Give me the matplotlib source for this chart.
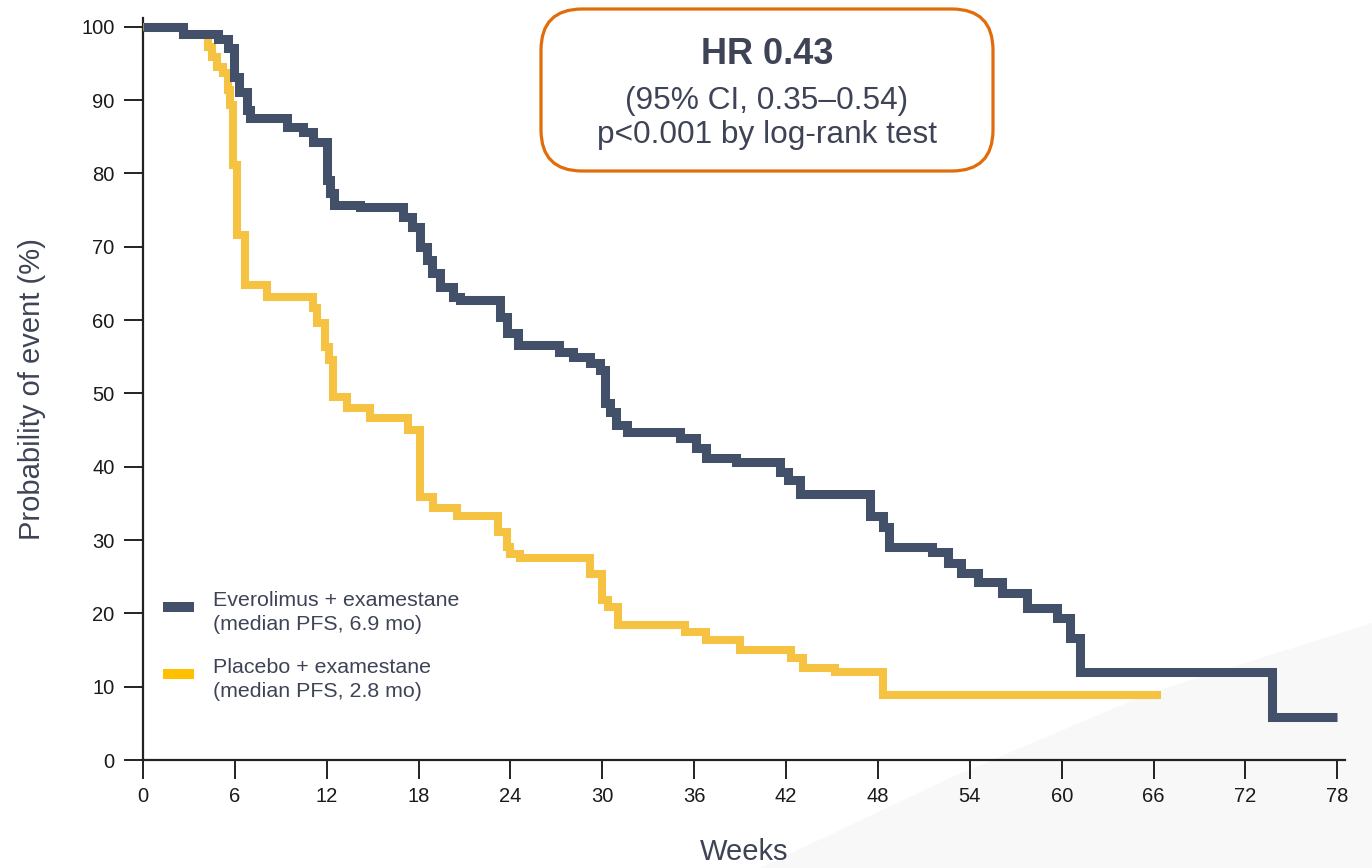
import matplotlib
matplotlib.use("Agg")
from matplotlib import pyplot as plt
from matplotlib.patches import FancyBboxPatch, Rectangle, Polygon
import numpy as np

plt.rcParams['font.family'] = ['Liberation Sans', 'DejaVu Sans']

# Kaplan-Meier steps: week of each drop and the % still event-free after it
evero_weeks = [0, 2.6, 4.9, 5.55, 5.95, 6.3, 6.8, 7.0, 9.4, 10.45,
               11.1, 12.0, 12.2, 12.5, 14.2, 17.0, 17.6, 18.1, 18.55, 18.9,
               19.4, 20.25, 20.7, 23.3, 23.8, 24.5, 27.2, 28.1, 29.2, 29.85,
               30.2, 30.5, 30.9, 31.6, 35.1, 36.1, 36.8, 38.7, 41.6, 42.1,
               42.9, 47.5, 48.3, 48.7, 51.5, 52.6, 53.4, 54.5, 56.1, 57.7,
               59.7, 60.55, 61.2, 73.75]
evero_pct = [100, 99.0, 98.4, 97.1, 93.2, 91.1, 88.7, 87.6, 86.4, 85.6,
             84.3, 79.1, 77.4, 75.7, 75.4, 74.1, 72.7, 70.0, 68.2, 66.4,
             64.5, 63.2, 62.8, 60.4, 58.3, 56.6, 55.7, 55.0, 54.2, 53.2,
             48.7, 47.5, 45.7, 44.7, 43.9, 42.6, 41.2, 40.7, 39.3, 38.2,
             36.3, 33.3, 31.8, 29.1, 28.4, 26.9, 25.5, 24.3, 22.8, 20.7,
             19.4, 16.6, 12.0, 5.9]
evero_last = 78.0

plac_weeks = [0, 2.6, 4.25, 4.5, 4.85, 5.2, 5.55, 5.7, 5.9, 6.15,
              6.65, 8.1, 11.1, 11.35, 11.9, 12.15, 12.4, 13.3, 14.8, 17.3,
              18.1, 18.95, 20.5, 23.2, 23.8, 24.0, 24.6, 29.2, 30.0, 30.4,
              31.0, 35.4, 36.8, 39.0, 42.3, 43.1, 45.2, 48.3]
plac_pct = [100, 99.0, 97.3, 95.9, 94.5, 93.7, 91.4, 89.4, 81.2, 71.6,
            64.8, 63.2, 61.7, 59.6, 56.3, 54.6, 49.5, 48.0, 46.7, 45.0,
            35.9, 34.4, 33.3, 31.1, 29.1, 28.1, 27.6, 25.4, 21.8, 20.9,
            18.4, 17.5, 16.4, 15.0, 13.9, 12.6, 12.0, 8.9]
plac_last = 66.5

x_ticks = list(range(0, 79, 6))
y_ticks = list(range(0, 101, 10))

arm_labels = ["Everolimus + examestane\n(median PFS, 6.9 mo)",
              "Placebo + examestane\n(median PFS, 2.8 mo)"]
hr_lines = ["HR 0.43", "(95% CI, 0.35\u20130.54)", "p<0.001 by log-rank test"]

navy = "#425069"
gold = "#F5C242"
gold_key = "#FFC000"
txt = "#3e4456"

W, H = 1372, 868
fig = plt.figure(figsize=(W / 100, H / 100), dpi=100)

# very faint grey swoosh behind the lower right of the plot
swoosh = Polygon([[760 / W, 0], [950 / W, 90 / H], [1150 / W, 175 / H],
                  [1372 / W, 245 / H], [1372 / W, 0]],
                 closed=True, transform=fig.transFigure,
                 facecolor="#f8f8f8", edgecolor="none", zorder=-1)
fig.patches.append(swoosh)

ax = fig.add_axes([143 / W, 1 - 760 / H, (1345 - 143) / W, (760 - 18) / H])
ax.set_facecolor("none")

def km_line(weeks, pct, last, color, lw, z):
    xs = np.append(weeks, last)
    ys = np.append(pct, pct[-1])
    ax.step(xs, ys, where="post", color=color, lw=lw, zorder=z,
            solid_joinstyle="miter", solid_capstyle="butt")

km_line(plac_weeks, plac_pct, plac_last, gold, 5.8, 3)
km_line(evero_weeks, evero_pct, evero_last, navy, 6.5, 4)

ax.set_xlim(0, 78.5)
ax.set_ylim(0, 101.2)
ax.set_xticks(x_ticks)
ax.set_yticks(y_ticks)
ax.tick_params(axis="both", direction="out", length=13.5, width=1.4,
               color="#222222", labelsize=14.5, labelcolor="#1a1a1a")
ax.tick_params(axis="x", pad=6)
ax.tick_params(axis="y", pad=7)
for side in ["top", "right"]:
    ax.spines[side].set_visible(False)
for side in ["left", "bottom"]:
    ax.spines[side].set_linewidth(1.6)
    ax.spines[side].set_color("#222222")

ax.set_xlabel("Weeks", fontsize=21, color=txt, labelpad=23)
ax.set_ylabel("Probability of event (%)", fontsize=21, color=txt, labelpad=25)

# legend drawn by hand: colour key beside a two-line label
for i, (lab, col) in enumerate(zip(arm_labels, [navy, gold_key])):
    top = 591 + i * 67
    fig.patches.append(Rectangle((163 / W, 1 - (top + 21) / H), 31 / W, 10 / H,
                                 transform=fig.transFigure, facecolor=col,
                                 edgecolor="none", zorder=5))
    fig.text(213 / W, 1 - top / H, lab, fontsize=15.4, color=txt,
             va="top", ha="left", linespacing=1.35)

# hazard ratio box
box = FancyBboxPatch((541 / W, 1 - 171 / H), (993 - 541) / W, (171 - 9) / H,
                     boxstyle="round,pad=0,rounding_size=0.03",
                     transform=fig.transFigure, facecolor="white",
                     edgecolor="#E26B0A", lw=2.3, zorder=5,
                     mutation_aspect=W / H)
fig.patches.append(box)
fig.text(767 / W, 1 - 54 / H, hr_lines[0], fontsize=26, fontweight="bold",
         color=txt, ha="center", va="center", zorder=6)
fig.text(767 / W, 1 - 101 / H, hr_lines[1], fontsize=22.8,
         color=txt, ha="center", va="center", zorder=6)
fig.text(767 / W, 1 - 135 / H, hr_lines[2], fontsize=22.8,
         color=txt, ha="center", va="center", zorder=6)

fig.savefig("out.png", dpi=100)
